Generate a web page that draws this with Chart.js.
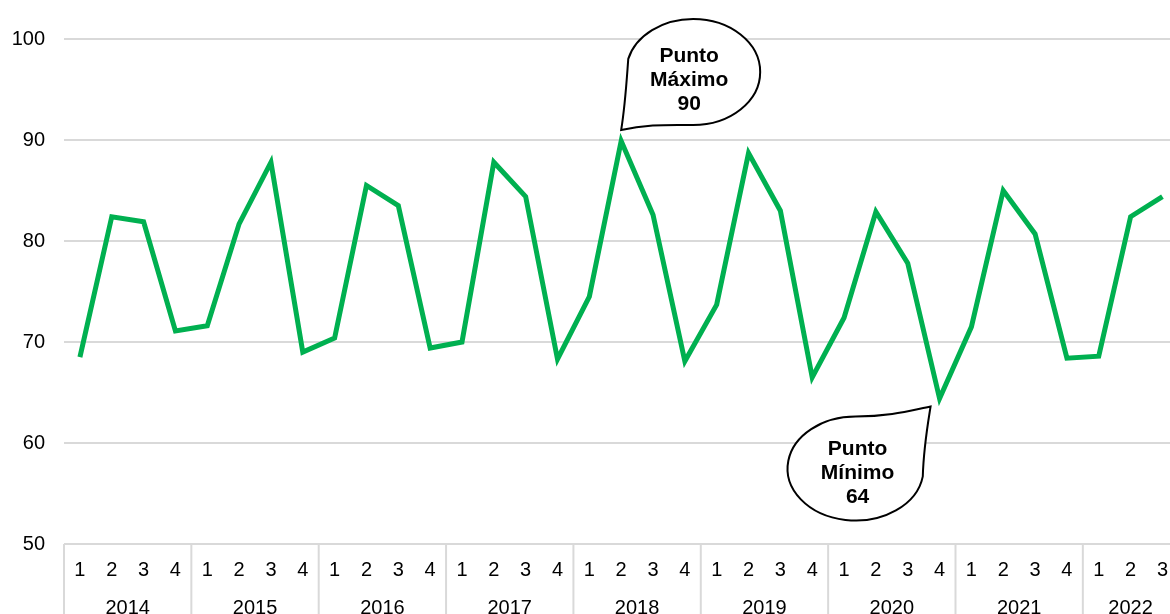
<!DOCTYPE html>
<html>
<head>
<meta charset="utf-8">
<script src="https://cdn.jsdelivr.net/npm/chart.js@4"></script>
<style>
html, body { margin: 0; padding: 0; background: #fff; overflow: hidden; }
#wrap { position: absolute; left: 0; top: 0; width: 1182px; height: 624px; }
</style>
</head>
<body>
<div id="wrap"><canvas id="chart" width="1182" height="624"></canvas></div>
<script>
var years = ["2014", "2015", "2016", "2017", "2018", "2019", "2020", "2021", "2022"];
var quarterNames = ["1", "2", "3", "4"];
var indice = [
	68.5, 82.4, 81.9, 71.1,
	71.6, 81.7, 87.8, 69.0,
	70.4, 85.5, 83.5, 69.4,
	70.0, 87.8, 84.4, 68.3,
	74.5, 89.9, 82.6, 68.1,
	73.7, 88.7, 83.0, 66.5,
	72.4, 82.9, 77.8, 64.4,
	71.5, 85.0, 80.7, 68.4,
	68.6, 82.4, 84.4
];
var yTicks = [50, 60, 70, 80, 90, 100];

var FONT = "'Liberation Sans', Arial, sans-serif";
var GRID = "#d9d9d9";

// quarter label for every point
var labels = [];
for (var i = 0; i < indice.length; i++) labels.push(quarterNames[i % 4]);

var maxIdx = indice.indexOf(Math.max.apply(null, indice));
var minIdx = indice.indexOf(Math.min.apply(null, indice));

// year groups + separators under the axis
var yearAxisPlugin = {
	id: "yearAxis",
	afterDraw: function(chart) {
		var ctx = chart.ctx, x = chart.scales.x, area = chart.chartArea;
		var step = x.getPixelForValue(1) - x.getPixelForValue(0);
		ctx.save();
		ctx.strokeStyle = GRID;
		ctx.lineWidth = 2;
		for (var i = 0; i < indice.length; i += 4) {
			var sx = x.getPixelForValue(i) - step / 2;
			ctx.beginPath();
			ctx.moveTo(sx, area.bottom);
			ctx.lineTo(sx, chart.height);
			ctx.stroke();
		}
		// right-hand closing line
		var last = x.getPixelForValue(indice.length - 1) + step / 2;
		ctx.beginPath();
		ctx.moveTo(last, area.bottom);
		ctx.lineTo(last, chart.height);
		ctx.stroke();

		ctx.fillStyle = "#000";
		ctx.font = "20px " + FONT;
		ctx.textAlign = "center";
		ctx.textBaseline = "middle";
		for (var y = 0; y < years.length; y++) {
			var first = y * 4, lastQ = Math.min(first + 3, indice.length - 1);
			var cx = (x.getPixelForValue(first) + x.getPixelForValue(lastQ)) / 2;
			ctx.fillText(years[y], cx, area.bottom + 64);
		}
		ctx.restore();
	}
};

function drawBubble(ctx, px, py, type, lines) {
	var tx, ty, cx, cy, rx = 67, ry = 53, txtX, txtY;
	ctx.save();
	ctx.beginPath();
	if (type === "max") {
		tx = px; ty = py - 11;
		cx = px + 72; cy = py - 69;
		txtX = px + 68; txtY = py - 61;
		ctx.moveTo(tx, ty);
		ctx.bezierCurveTo(tx + 25, ty - 6, cx - 25, cy + ry, cx, cy + ry);
		ctx.ellipse(cx, cy, rx, ry, 0, Math.PI / 2, Math.PI + 0.25, true);
		ctx.bezierCurveTo(cx - rx, cy + 15, tx + 4, ty - 25, tx, ty);
	} else {
		tx = px - 9; ty = py + 8;
		cx = px - 84; cy = py + 70; ry = 52; rx = 68;
		txtX = px - 82; txtY = py + 75;
		ctx.moveTo(tx, ty);
		ctx.bezierCurveTo(tx - 4, ty + 25, cx + rx, cy - 20, cx + rx * Math.cos(0.15), cy + ry * Math.sin(0.15));
		ctx.ellipse(cx, cy, rx, ry, 0, 0.15, 1.5 * Math.PI, false);
		ctx.bezierCurveTo(cx + 35, cy - ry, tx - 20, ty + 4, tx, ty);
	}
	ctx.closePath();
	ctx.fillStyle = "#fff";
	ctx.fill();
	ctx.strokeStyle = "#000";
	ctx.lineWidth = 2;
	ctx.stroke();

	ctx.fillStyle = "#000";
	ctx.font = "bold 21px " + FONT;
	ctx.textAlign = "center";
	ctx.textBaseline = "middle";
	for (var i = 0; i < lines.length; i++) {
		ctx.fillText(lines[i], txtX, txtY + (i - 1) * 24);
	}
	ctx.restore();
}

var bubblePlugin = {
	id: "bubbles",
	afterDatasetsDraw: function(chart) {
		var x = chart.scales.x, y = chart.scales.y, ctx = chart.ctx;
		drawBubble(ctx, x.getPixelForValue(maxIdx), y.getPixelForValue(indice[maxIdx]), "max",
			["Punto", "Máximo", String(Math.round(indice[maxIdx]))]);
		drawBubble(ctx, x.getPixelForValue(minIdx), y.getPixelForValue(indice[minIdx]), "min",
			["Punto", "Mínimo", String(Math.round(indice[minIdx]))]);
	}
};

new Chart(document.getElementById("chart").getContext("2d"), {
	type: "line",
	data: {
		labels: labels,
		datasets: [{
			data: indice,
			borderColor: "#00b050",
			borderWidth: 5,
			borderJoinStyle: "miter",
			pointRadius: 0,
			tension: 0,
			fill: false
		}]
	},
	options: {
		responsive: false,
		devicePixelRatio: 1,
		animation: false,
		layout: { padding: { top: 39, left: 0, right: 0, bottom: 0 } },
		plugins: {
			legend: { display: false },
			tooltip: { enabled: false }
		},
		scales: {
			x: {
				type: "category",
				offset: true,
				grid: { display: false, drawTicks: false },
				border: { display: false },
				ticks: {
					color: "#000",
					font: { family: FONT, size: 20 },
					padding: 14,
					maxRotation: 0,
					autoSkip: false
				},
				afterFit: function(scale) { scale.height = 80; }
			},
			y: {
				min: 50,
				max: 100,
				afterBuildTicks: function(scale) {
					scale.ticks = yTicks.map(function(v) { return { value: v }; });
				},
				grid: { color: GRID, lineWidth: 2, drawTicks: false },
				border: { display: false },
				ticks: {
					color: "#000",
					font: { family: FONT, size: 20 },
					padding: 19
				},
				afterFit: function(scale) { scale.width = 64; }
			}
		}
	},
	plugins: [yearAxisPlugin, bubblePlugin]
});
</script>
</body>
</html>
